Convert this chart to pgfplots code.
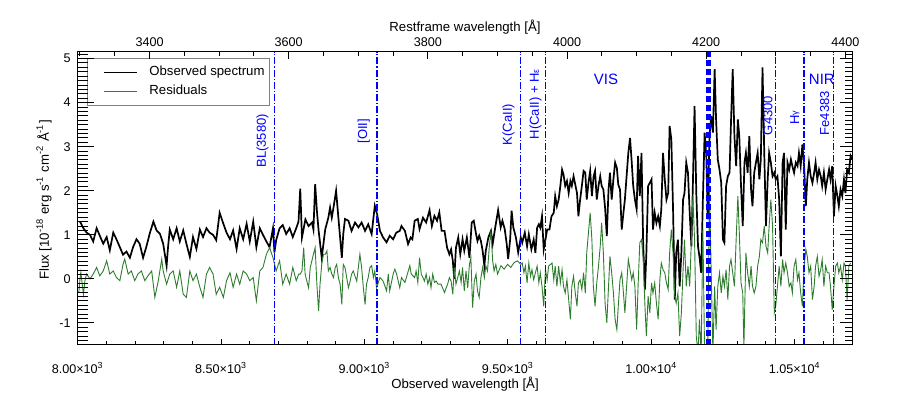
\documentclass[border=0pt]{standalone}
\usepackage{fontspec}
\setmainfont{Liberation Sans}
\usepackage{pgfplots}
\pgfplotsset{compat=1.18}
\definecolor{resgreen}{RGB}{45,125,45}
\definecolor{lblue}{RGB}{0,0,255}
\tikzset{blab/.style={rotate=90, anchor=south east, inner sep=0pt, text=lblue, font=\fontsize{6.5}{7}\selectfont}}
\begin{document}
\begin{tikzpicture}
\path[use as bounding box] (0,0) rectangle (455pt,200pt);
\pgfplotsset{
  base/.style={at={(38.85pt,27.5pt)}, anchor=south west, scale only axis,
    width=387.15pt, height=146.5pt, ymin=-1.5, ymax=5.15,
    axis line style={line width=0.5pt, black},
    tick style={line width=0.5pt, black}, tick align=inside,
    scaled x ticks=false, scaled y ticks=false,
    ticklabel style={font=\fontsize{6.3}{7}\selectfont}},
  dashdot/.style={lblue, line width=0.65pt, dash pattern=on 3.5pt off 1pt on 0.6pt off 1pt, forget plot},
}
% ---------- data axis with bottom ticks ----------
\begin{axis}[base, xmin=8000, xmax=10700,
  xtick={8000,8500,...,10500}, minor xtick={8100,8200,...,10600},
  xtick pos=left,
  xticklabels={8.00×10\textsuperscript{3},8.50×10\textsuperscript{3},9.00×10\textsuperscript{3},9.50×10\textsuperscript{3},1.00×10\textsuperscript{4},1.05×10\textsuperscript{4}},
  xticklabel style={yshift=-5pt},
  ytick=\empty, major tick length=3pt, minor tick length=2pt,
  legend cell align=left,
  legend style={at={(0.012,0.9795)}, anchor=north west, draw=gray, fill=white,
    inner xsep=2.5pt, inner ysep=3.8pt, row sep=3pt,
    font=\fontsize{6.6}{7}\selectfont,
    nodes={inner sep=0pt, text height=5pt, text depth=1.5pt}},
  legend image code/.code={\path[draw=none,fill=none] (0pt,-2pt) rectangle (28.5pt,2pt); \draw[#1] (6pt,0pt) -- (22.5pt,0pt);},
]
\addplot[black, line width=0.85pt] table {
8008 1.30
8020 1.15
8031 1.05
8043 1.00
8054 0.85
8066 1.15
8077 0.98
8089 0.80
8101 0.95
8112 0.65
8124 1.05
8135 0.90
8147 0.72
8158 0.55
8170 0.62
8182 0.48
8193 0.72
8205 0.90
8216 0.80
8228 0.48
8239 0.72
8252 1.05
8264 1.30
8275 1.10
8287 1.02
8298 0.80
8310 0.30
8315 0.72
8321 1.12
8333 0.90
8345 1.15
8356 0.85
8368 1.10
8379 0.80
8391 0.50
8402 0.95
8414 0.68
8426 1.12
8437 0.95
8449 1.15
8460 1.05
8472 1.00
8483 0.88
8495 1.50
8508 1.25
8519 1.05
8531 0.90
8542 1.10
8554 0.68
8565 1.15
8577 0.90
8589 1.25
8600 0.85
8612 1.30
8623 0.72
8635 1.15
8646 1.00
8658 0.85
8669 0.72
8681 1.15
8686 0.60
8692 0.88
8704 1.15
8715 1.22
8727 1.02
8739 1.15
8750 0.95
8762 1.15
8770 1.30
8776 2.05
8782 0.94
8794 1.35
8805 1.20
8817 1.28
8822 1.12
8828 2.15
8834 1.55
8840 1.10
8851 0.48
8863 1.12
8874 1.39
8880 1.62
8886 1.39
8892 1.62
8901 2.00
8909 1.39
8915 0.94
8921 0.48
8926 1.02
8932 1.36
8944 1.32
8955 1.09
8967 1.28
8979 1.17
8990 1.28
9002 1.09
9013 1.24
9025 1.02
9036 1.66
9044 1.47
9054 1.09
9065 0.94
9077 0.83
9088 0.98
9100 0.90
9111 1.05
9123 1.09
9129 1.20
9141 1.09
9152 0.79
9161 0.94
9167 0.90
9175 1.32
9186 1.36
9192 1.13
9204 1.39
9215 1.28
9227 1.56
9235 1.20
9244 1.43
9253 1.32
9261 1.51
9269 1.09
9279 1.09
9288 0.71
9296 0.56
9302 0.67
9308 0.41
9313 0.00
9319 0.71
9327 0.94
9334 0.56
9342 0.90
9348 0.64
9357 0.94
9366 0.48
9374 1.28
9381 1.32
9389 1.02
9394 0.86
9400 0.98
9406 0.86
9412 0.64
9418 0.30
9423 0.64
9432 0.94
9441 1.09
9447 0.79
9455 1.13
9466 1.56
9475 1.17
9481 1.32
9489 1.13
9496 0.79
9501 0.45
9508 0.90
9513 1.55
9519 1.17
9528 0.94
9536 0.60
9545 0.94
9550 0.82
9559 1.05
9567 0.74
9573 1.01
9582 0.67
9590 0.89
9596 0.59
9602 1.16
9608 1.24
9613 1.16
9619 1.42
9625 0.67
9631 0.89
9637 1.12
9645 1.12
9652 1.42
9660 1.50
9665 1.88
9671 1.65
9677 1.80
9683 2.11
9689 2.48
9694 2.37
9700 2.11
9706 2.22
9712 1.95
9718 2.22
9723 2.11
9729 2.33
9735 2.14
9741 1.95
9746 1.42
9752 1.80
9758 2.11
9764 2.45
9770 2.41
9775 1.80
9781 2.18
9787 2.45
9793 1.88
9799 2.33
9804 2.45
9810 1.80
9816 2.11
9822 2.33
9827 2.11
9833 2.03
9839 1.61
9845 0.97
9851 2.03
9856 2.41
9862 1.80
9868 2.26
9874 2.64
9880 2.52
9885 2.14
9891 2.03
9897 1.12
9903 1.50
9908 1.80
9914 2.33
9920 2.86
9926 3.20
9932 2.64
9937 2.11
9943 1.80
9949 1.58
9954 2.79
9960 1.88
9966 2.86
9972 0.74
9978 -0.24
9983 0.59
9989 2.11
9995 2.18
10001 2.26
10006 1.12
10012 1.50
10018 1.27
10024 1.42
10030 1.20
10035 1.58
10041 2.86
10047 2.26
10053 1.80
10059 1.95
10064 3.47
10070 3.17
10076 1.58
10082 -0.47
10087 0.59
10093 0.89
10099 -0.17
10105 0.59
10111 1.80
10116 1.95
10122 2.64
10128 2.41
10134 1.50
10140 0.74
10145 2.11
10151 3.92
10157 1.95
10163 0.74
10168 0.51
10174 0.14
10180 1.80
10186 3.32
10192 2.79
10197 1.35
10203 3.24
10209 3.70
10215 3.32
10221 4.76
10226 3.62
10232 2.71
10238 2.48
10244 2.18
10250 0.89
10255 0.82
10261 2.11
10267 2.33
10273 2.41
10278 3.55
10284 4.76
10290 3.24
10296 2.56
10302 3.62
10307 3.24
10313 2.11
10319 1.20
10325 2.64
10330 2.86
10336 2.41
10342 3.24
10348 2.03
10353 1.65
10359 2.41
10365 2.64
10371 2.86
10377 2.26
10382 2.71
10388 4.80
10394 2.86
10400 1.20
10406 2.26
10411 2.86
10417 2.64
10423 2.33
10429 2.41
10434 2.26
10440 2.33
10446 1.80
10452 0.51
10458 2.64
10463 2.86
10469 1.12
10475 2.64
10481 2.48
10487 2.71
10492 2.56
10498 2.41
10504 2.64
10510 2.56
10515 2.86
10521 2.56
10527 3.05
10533 2.56
10539 1.65
10544 2.26
10550 2.64
10556 2.33
10562 2.18
10568 2.41
10573 2.64
10579 2.26
10585 2.48
10591 2.33
10596 2.11
10602 2.41
10608 2.03
10614 2.26
10620 2.48
10625 2.26
10631 2.56
10637 1.42
10643 2.11
10649 1.88
10654 1.65
10660 2.03
10666 1.88
10672 2.26
10677 1.95
10683 2.48
10689 2.41
10695 2.79
10700 2.71
};
\addlegendentry{Observed spectrum}
\addplot[resgreen, line width=0.45pt] table {
8004 -0.30
8008 0.00
8011 0.15
8020 -0.35
8025 -0.04
8031 0.11
8043 0.00
8054 0.11
8066 0.26
8077 0.07
8089 0.18
8101 0.41
8112 0.11
8124 0.18
8135 0.03
8147 -0.04
8158 0.33
8164 0.45
8176 0.11
8187 0.18
8199 -0.04
8210 0.11
8222 0.18
8234 -0.04
8245 0.07
8258 0.18
8269 -0.42
8281 -0.04
8293 0.45
8298 0.18
8310 -0.12
8321 0.11
8333 0.18
8345 -0.19
8356 0.18
8368 -0.35
8379 -0.42
8391 0.18
8402 -0.04
8414 0.11
8426 -0.19
8437 -0.42
8449 0.11
8460 0.26
8472 0.11
8483 -0.35
8495 -0.19
8508 -0.42
8519 -0.04
8531 0.14
8542 -0.19
8554 0.11
8565 -0.12
8577 0.18
8589 0.11
8600 -0.04
8612 0.03
8623 -0.50
8635 0.18
8646 0.26
8658 0.56
8669 0.71
8681 0.48
8692 0.18
8704 0.41
8715 -0.12
8727 0.11
8739 -0.12
8750 0.26
8762 -0.04
8771 0.11
8776 0.11
8782 0.18
8788 0.71
8793 0.11
8799 -0.05
8805 -0.20
8811 0.26
8822 0.56
8828 0.71
8834 -0.12
8840 -0.73
8845 -0.12
8851 0.33
8857 0.56
8863 0.56
8869 0.64
8874 0.18
8880 0.26
8886 0.11
8892 0.03
8898 0.26
8903 0.33
8909 0.03
8915 -0.12
8921 -0.58
8926 0.33
8932 0.26
8938 0.03
8944 -0.20
8950 -0.05
8955 0.11
8961 0.18
8973 -0.05
8984 0.56
8990 0.26
8996 -0.20
9002 -0.58
9007 -0.12
9013 0.03
9019 0.26
9025 0.30
9031 0.03
9036 0.18
9042 -0.20
9054 0.03
9065 -0.05
9077 -0.27
9083 0.11
9088 -0.27
9100 0.11
9106 0.22
9112 0.11
9123 -0.20
9129 0.03
9141 -0.08
9146 0.03
9158 0.30
9163 0.11
9175 0.03
9180 0.18
9186 -0.08
9192 0.48
9198 0.11
9204 0.03
9209 -0.05
9215 0.11
9221 -0.12
9227 0.03
9232 -0.20
9238 0.11
9244 -0.08
9250 -0.05
9256 -0.12
9267 -0.12
9279 -0.31
9285 -0.20
9290 -0.12
9296 0.03
9302 -0.05
9308 -0.35
9313 0.26
9319 -0.12
9325 0.03
9331 0.18
9337 -0.08
9342 0.26
9348 -0.27
9354 0.18
9360 -0.20
9366 0.33
9371 0.48
9377 -0.65
9383 -0.05
9389 0.11
9394 -0.27
9400 -0.42
9406 0.03
9412 0.26
9418 0.03
9423 0.30
9429 0.18
9435 0.71
9441 1.09
9447 0.41
9452 0.18
9458 0.33
9464 0.11
9476 0.30
9487 0.22
9499 0.33
9510 0.26
9522 0.37
9533 0.41
9545 0.33
9550 0.36
9556 0.14
9561 0.29
9567 -0.09
9573 0.36
9579 0.06
9584 0.21
9590 -0.02
9596 0.14
9602 0.29
9608 -0.09
9613 0.14
9619 -0.17
9625 -0.62
9631 0.21
9637 -0.02
9642 0.29
9654 0.36
9660 -0.02
9665 0.29
9671 -0.17
9677 0.29
9683 -0.09
9689 0.21
9694 -0.17
9700 -0.32
9706 -0.02
9712 -0.47
9718 -0.92
9723 -0.17
9729 0.06
9735 -0.32
9741 -0.62
9746 -0.09
9752 -0.02
9758 -0.24
9764 0.14
9770 -0.32
9775 0.59
9781 1.05
9787 1.50
9793 0.89
9798 -0.17
9804 -0.62
9810 -0.09
9816 0.29
9822 0.74
9827 1.27
9833 0.59
9839 -0.55
9845 -1.00
9851 -0.17
9856 0.51
9862 0.14
9868 -0.32
9874 -0.92
9880 -1.15
9885 -0.62
9891 -0.02
9897 0.14
9903 -0.32
9908 -0.77
9914 -0.17
9920 0.44
9932 -0.02
9937 0.14
9943 -0.17
9949 -1.15
9954 -0.17
9960 0.82
9966 0.89
9972 0.44
9978 -0.62
9983 -1.30
9989 -0.39
9995 -0.77
10001 -0.09
10006 -0.32
10012 -0.09
10018 -0.55
10024 -0.92
10030 -0.02
10035 0.36
10041 0.21
10047 0.14
10053 -0.09
10059 -0.24
10064 0.59
10070 1.12
10076 0.59
10082 -0.39
10087 -0.55
10093 -0.32
10099 -1.30
10105 -0.77
10111 0.21
10116 0.89
10122 -0.17
10128 0.29
10134 -0.17
10140 0.89
10145 1.88
10151 0.89
10157 -1.30
10163 -1.68
10168 -0.92
10174 -1.68
10180 1.12
10186 -1.68
10192 -1.68
10197 -1.68
10203 2.00
10215 -1.68
10221 -0.17
10226 -1.15
10232 -0.17
10238 0.14
10244 -0.32
10250 0.06
10255 -0.17
10261 0.21
10267 -0.47
10273 0.29
10278 0.44
10284 0.14
10290 -0.17
10296 0.89
10302 1.88
10307 1.05
10313 -0.09
10319 -0.32
10323 -1.55
10330 0.59
10336 0.14
10342 -0.17
10348 0.29
10353 -0.17
10359 -0.32
10365 -0.17
10371 0.29
10377 0.51
10382 0.89
10388 0.82
10394 1.20
10400 0.74
10406 0.59
10411 1.20
10417 1.80
10423 1.20
10429 -0.77
10434 -0.62
10440 -0.17
10446 0.29
10452 -0.17
10458 0.44
10463 0.14
10469 0.36
10475 0.14
10481 -0.17
10487 -0.09
10492 -0.32
10498 0.29
10504 0.44
10510 -0.02
10515 0.14
10521 -0.32
10527 -0.62
10533 0.29
10539 0.67
10544 0.51
10550 0.14
10556 0.29
10562 -0.47
10568 -0.17
10573 0.29
10579 0.51
10585 0.06
10591 0.21
10596 0.44
10602 -0.17
10608 0.29
10614 0.14
10620 0.14
10625 -0.17
10631 -0.70
10637 -0.17
10643 0.29
10649 0.36
10654 0.14
10660 0.29
10666 -0.02
10672 0.36
10677 0.29
10683 -0.47
10689 0.29
10695 0.36
};
\addlegendentry{Residuals}
% line markers
\addplot[dashdot] coordinates {(8687,-1.5) (8687,5.15)};
\addplot[dashdot] coordinates {(9044,-1.5) (9044,5.15)};
\addplot[dashdot] coordinates {(9545,-1.5) (9545,5.15)};
\addplot[dashdot] coordinates {(9630,-1.5) (9630,5.15)};
\addplot[dashdot] coordinates {(10434,-1.5) (10434,5.15)};
\addplot[dashdot] coordinates {(10533,-1.5) (10533,5.15)};
\addplot[dashdot] coordinates {(10636,-1.5) (10636,5.15)};
\addplot[lblue, line width=2.4pt, dash pattern=on 3pt off 1.5pt, forget plot] coordinates {(10200,-1.5) (10200,5.15)};
\node[blab] at (axis cs:8667,3.75) {BL(3580)};
\node[blab] at (axis cs:9020,3.64) {[OII]};
\node[blab] at (axis cs:9525,3.98) {K(CaII)};
\node[blab] at (axis cs:9619,4.77) {H(CaII) + H{\fontsize{4.5}{5}\selectfont ε}};
\node[blab] at (axis cs:10424,4.16) {G4300};
\node[blab] at (axis cs:10518,3.82) {H{\fontsize{4.5}{5}\selectfont\raisebox{0.8pt}{γ}}};
\node[blab] at (axis cs:10622,4.27) {Fe4383};
\node[text=lblue, font=\fontsize{7.5}{8}\selectfont, inner sep=0pt] at (axis cs:9842,4.52) {VIS};
\node[text=lblue, font=\fontsize{7.5}{8}\selectfont, inner sep=0pt] at (axis cs:10595,4.52) {NIR};
\end{axis}
% ---------- left y axis ----------
\begin{axis}[base, xmin=8000, xmax=10700, xtick=\empty,
  ytick={-1,0,...,5}, yticklabels={-1,0,1,2,3,4,5},
  minor ytick={-1.4,-1.3,...,5.1},
  ytick pos=left, major tick length=8pt, minor tick length=5pt]
\end{axis}
% ---------- right y axis ----------
\begin{axis}[base, xmin=8000, xmax=10700, xtick=\empty,
  ytick={-1,0,...,5}, yticklabels={,,,,,,},
  minor ytick={-1.4,-1.3,...,5.1},
  ytick pos=right, major tick length=6pt, minor tick length=3.5pt]
\end{axis}
% ---------- top axis (rest frame) ----------
\begin{axis}[base, xmin=3296.8, xmax=4409.5, ytick=\empty,
  xtick={3400,3600,...,4400}, xticklabels={3400,3600,3800,4000,4200,4400},
  minor xtick={3300,3350,...,4400},
  xtick pos=right, xticklabel pos=right, xticklabel style={yshift=-1pt},
  major tick length=3.3pt, minor tick length=2.2pt]
\end{axis}
\node[font=\fontsize{6.6}{7}\selectfont] at (232.5pt,186.5pt) {Restframe wavelength [Å]};
\node[font=\fontsize{6.6}{7}\selectfont] at (232.5pt,8pt) {Observed wavelength [Å]};
\node[font=\fontsize{6.6}{7}\selectfont, rotate=90] at (22pt,100pt) {Flux [10\textsuperscript{-18} erg s\textsuperscript{-1} cm\textsuperscript{-2} Å\textsuperscript{-1}]};
\end{tikzpicture}
\end{document}
